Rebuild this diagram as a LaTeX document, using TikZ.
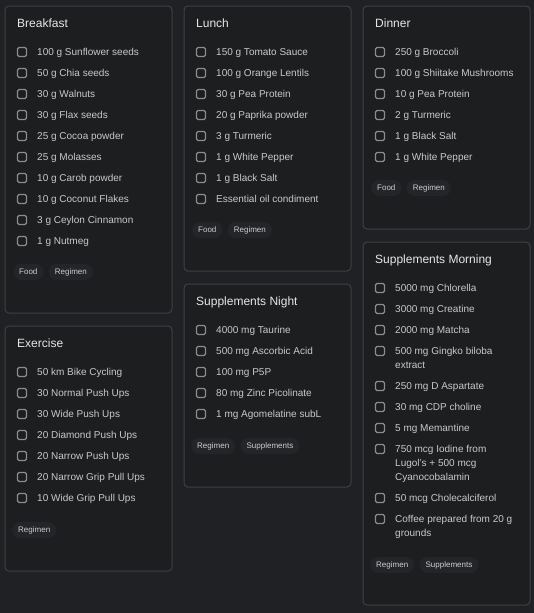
\documentclass[tikz,border=0pt]{standalone}
\usepackage{fontspec}
\setmainfont{Liberation Sans}
\usetikzlibrary{positioning}

\begin{document}
\begin{tikzpicture}[x=1pt, y=-1pt,
    card/.style={draw=cardline, fill=cardbg, line width=1pt, rounded corners=4pt},
    cardtitle/.style={anchor=base west, inner sep=0pt, text=titletext, font=\fontsize{12}{14}\selectfont},
    checkbox/.style={draw=boxline, line width=1.3pt, rounded corners=1.5pt, minimum size=9pt, inner sep=0pt},
    item/.style={anchor=north west, inner sep=0pt, text=itemtext, align=left, font=\fontsize{10}{14}\selectfont},
    chip/.style={fill=chipbg, rounded corners=8pt, text=chiptext, minimum height=16pt, inner xsep=6pt, inner ysep=0pt,
        text height=6pt, text depth=1.8pt, font=\fontsize{8}{10}\selectfont}]
    % Define row spacing
    \def\dy{21}
    % Define colours
    \definecolor{pagebg}{RGB}{32,33,36}
    \definecolor{cardbg}{RGB}{29,30,32}
    \definecolor{cardline}{RGB}{62,64,68}
    \definecolor{titletext}{RGB}{230,231,233}
    \definecolor{itemtext}{RGB}{200,201,203}
    \definecolor{boxline}{RGB}{140,141,144}
    \definecolor{chipbg}{RGB}{36,37,40}
    \definecolor{chiptext}{RGB}{205,206,209}

    \fill[pagebg] (0,0) rectangle (534,613);
    \useasboundingbox (0,0) rectangle (534,613);

    % 1. Breakfast
    \begin{scope}[shift={(5,6)}]
        \draw[card] (0,0) rectangle (167,307);
        \node[cardtitle] (breakfast) at (12,21.3) {Breakfast};
        \foreach \txt [count=\i] in {100 g Sunflower seeds, 50 g Chia seeds, 30 g Walnuts, 30 g Flax seeds,
            25 g Cocoa powder, 25 g Molasses, 10 g Carob powder, 10 g Coconut Flakes, 3 g Ceylon Cinnamon, 1 g Nutmeg} {
            \node[checkbox] (breakfastbox\i) at (17,{46+\dy*(\i-1)}) {};
            \node[item] (breakfastitem\i) at (32,{42.4+\dy*(\i-1)}) {\txt};
        }
        \node[chip, anchor=west] (breakfastfood) at (8,266) {Food};
        \node[chip, right=5pt of breakfastfood] (breakfastregimen) {Regimen};
    \end{scope}

    % 2. Exercise
    \begin{scope}[shift={(5,326)}]
        \draw[card] (0,0) rectangle (167,245);
        \node[cardtitle] (exercise) at (12,21.3) {Exercise};
        \foreach \txt [count=\i] in {50 km Bike Cycling, 30 Normal Push Ups, 30 Wide Push Ups, 20 Diamond Push Ups,
            20 Narrow Push Ups, 20 Narrow Grip Pull Ups, 10 Wide Grip Pull Ups} {
            \node[checkbox] (exercisebox\i) at (17,{46+\dy*(\i-1)}) {};
            \node[item] (exerciseitem\i) at (32,{42.4+\dy*(\i-1)}) {\txt};
        }
        \node[chip, anchor=west] (exerciseregimen) at (7,204) {Regimen};
    \end{scope}

    % 3. Lunch
    \begin{scope}[shift={(184,6)}]
        \draw[card] (0,0) rectangle (167,265);
        \node[cardtitle] (lunch) at (12,21.3) {Lunch};
        \foreach \txt [count=\i] in {150 g Tomato Sauce, 100 g Orange Lentils, 30 g Pea Protein, 20 g Paprika powder,
            3 g Turmeric, 1 g White Pepper, 1 g Black Salt, Essential oil condiment} {
            \node[checkbox] (lunchbox\i) at (17,{46+\dy*(\i-1)}) {};
            \node[item] (lunchitem\i) at (32,{42.4+\dy*(\i-1)}) {\txt};
        }
        \node[chip, anchor=west] (lunchfood) at (8,224) {Food};
        \node[chip, right=5pt of lunchfood] (lunchregimen) {Regimen};
    \end{scope}

    % 4. Supplements Night
    \begin{scope}[shift={(184,284)}]
        \draw[card] (0,0) rectangle (167,203);
        \node[cardtitle] (night) at (12,21.3) {Supplements Night};
        \foreach \txt [count=\i] in {4000 mg Taurine, 500 mg Ascorbic Acid, 100 mg P5P, 80 mg Zinc Picolinate,
            1 mg Agomelatine subL} {
            \node[checkbox] (nightbox\i) at (17,{46+\dy*(\i-1)}) {};
            \node[item] (nightitem\i) at (32,{42.4+\dy*(\i-1)}) {\txt};
        }
        \node[chip, anchor=west] (nightregimen) at (7,162) {Regimen};
        \node[chip, right=5pt of nightregimen] (nightsupplements) {Supplements};
    \end{scope}

    % 5. Dinner
    \begin{scope}[shift={(363,6)}]
        \draw[card] (0,0) rectangle (167,223);
        \node[cardtitle] (dinner) at (12,21.3) {Dinner};
        \foreach \txt [count=\i] in {250 g Broccoli, 100 g Shiitake Mushrooms, 10 g Pea Protein, 2 g Turmeric,
            1 g Black Salt, 1 g White Pepper} {
            \node[checkbox] (dinnerbox\i) at (17,{46+\dy*(\i-1)}) {};
            \node[item] (dinneritem\i) at (32,{42.4+\dy*(\i-1)}) {\txt};
        }
        \node[chip, anchor=west] (dinnerfood) at (8,182) {Food};
        \node[chip, right=5pt of dinnerfood] (dinnerregimen) {Regimen};
    \end{scope}

    % 6. Supplements Morning (some rows wrap)
    \begin{scope}[shift={(363,242)}]
        \draw[card] (0,0) rectangle (167,363);
        \node[cardtitle] (morning) at (12,21.3) {Supplements Morning};
        \foreach \y/\txt [count=\i] in {46/5000 mg Chlorella, 67/3000 mg Creatine, 88/2000 mg Matcha,
            109/{500 mg Gingko biloba\\extract}, 144/250 mg D Aspartate, 165/30 mg CDP choline, 186/5 mg Memantine,
            207/{750 mcg Iodine from\\Lugol's + 500 mcg\\Cyanocobalamin}, 256/50 mcg Cholecalciferol,
            277/{Coffee prepared from 20 g\\grounds}} {
            \node[checkbox] (morningbox\i) at (17,\y) {};
            \node[item] (morningitem\i) at (32,{\y-3.6}) {\txt};
        }
        \node[chip, anchor=west] (morningregimen) at (7,323) {Regimen};
        \node[chip, right=5pt of morningregimen] (morningsupplements) {Supplements};
    \end{scope}

\end{tikzpicture}
\end{document}
